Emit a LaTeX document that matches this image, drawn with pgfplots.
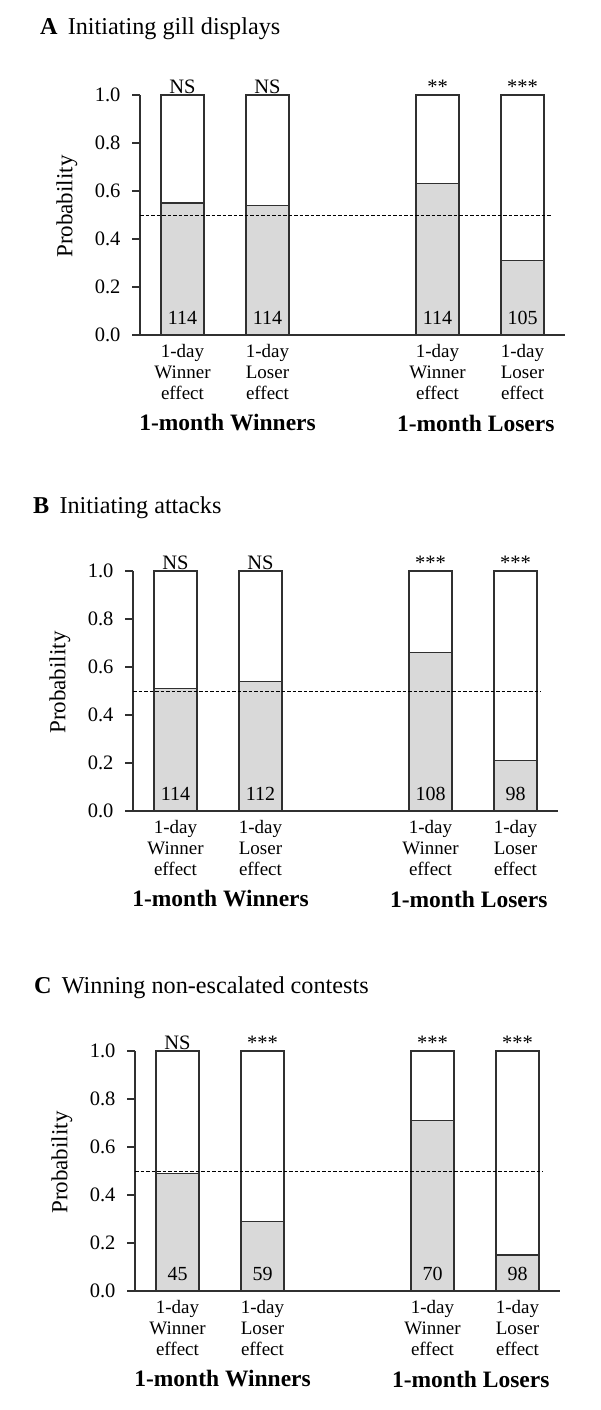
\documentclass[border=0pt]{standalone}
\usepackage{pgfplots}
\pgfplotsset{compat=1.18}
\usepackage{fontspec}
\setmainfont{Liberation Serif}
\definecolor{barfill}{HTML}{D9D9D9}
\definecolor{edge}{HTML}{303030}

\pgfplotsset{panel/.style={
  scale only axis, width=425pt, height=240pt,
  anchor=south west,
  xmin=-0.5, xmax=4.5, ymin=0, ymax=1,
  axis lines*=left,
  axis line style={edge, line width=1.1pt},
  ytick={0,0.2,0.4,0.6,0.8,1},
  /pgf/number format/.cd, fixed, fixed zerofill, precision=1, assume math mode=true, /pgfplots/.cd,
  yticklabel style={font=\fontsize{20.5}{24}\selectfont, xshift=-8pt},
  tick align=outside, major tick length=8pt,
  tick style={edge, line width=1.2pt},
  xtick={0,1,3,4},
  xticklabels={{1-day\\Winner\\effect},{1-day\\Loser\\effect},{1-day\\Winner\\effect},{1-day\\Loser\\effect}},
  xtick style={draw=none},
  xticklabel style={align=center, font=\fontsize{19}{21}\selectfont, yshift=2pt},
  ylabel={Probability},
  ylabel style={font=\fontsize{23}{24}\selectfont, at={(axis description cs:-0.172,0.535)}, anchor=center},
  clip=false,
}}
\pgfplotsset{whitebar/.style={ybar, bar width=43pt, bar shift=0pt, fill=white, draw=edge, line width=1.1pt},
  graybar/.style={ybar, bar width=43pt, bar shift=0pt, fill=barfill, draw=edge, line width=1.1pt},
  refline/.style={black, line width=0.9pt, dash pattern=on 3.5pt off 2pt, forget plot}}

\newcommand{\cnt}[2]{\node[font=\fontsize{20}{24}\selectfont] at (axis cs:#1,0) [yshift=17pt] {#2};}
\newcommand{\sig}[2]{\node[font=\fontsize{20.5}{24}\selectfont, anchor=base, inner sep=0pt] at (axis cs:#1,1) [yshift=1.5pt] {#2};}
\newcommand{\groups}{%
  \node[font=\fontsize{23.5}{26}\selectfont\bfseries] at (axis cs:0.53,0) [yshift=-88pt] {1-month Winners};
  \node[font=\fontsize{23.5}{26}\selectfont\bfseries] at (axis cs:3.45,0) [yshift=-88pt] {1-month Losers};}

\begin{document}
\begin{tikzpicture}
\useasboundingbox (0,-1410pt) rectangle (600pt,0);

% Panel titles
\node[anchor=base west, inner sep=0pt, font=\fontsize{24.2}{27}\selectfont] at (40pt,-35pt) {\textbf{A}\hspace{0.42em}Initiating gill displays};
\node[anchor=base west, inner sep=0pt, font=\fontsize{24.2}{27}\selectfont] at (33pt,-513pt) {\textbf{B}\hspace{0.42em}Initiating attacks};
\node[anchor=base west, inner sep=0pt, font=\fontsize{24.2}{27}\selectfont] at (34pt,-993pt) {\textbf{C}\hspace{0.42em}Winning non-escalated contests};

% Panel A
\begin{axis}[panel, at={(140pt,-335pt)}]
\addplot[whitebar] coordinates {(0,1) (1,1) (3,1) (4,1)};
\addplot[graybar] coordinates {(0,0.55) (1,0.54) (3,0.63) (4,0.31)};
\addplot[refline] coordinates {(-0.5,0.5) (4.33,0.5)};
\cnt{0}{114}\cnt{1}{114}\cnt{3}{114}\cnt{4}{105}
\sig{0}{NS}\sig{1}{NS}\sig{3}{**}\sig{4}{***}
\groups
\end{axis}

% Panel B
\begin{axis}[panel, at={(133pt,-811pt)}]
\addplot[whitebar] coordinates {(0,1) (1,1) (3,1) (4,1)};
\addplot[graybar] coordinates {(0,0.51) (1,0.54) (3,0.66) (4,0.21)};
\addplot[refline] coordinates {(-0.5,0.5) (4.3,0.5)};
\cnt{0}{114}\cnt{1}{112}\cnt{3}{108}\cnt{4}{98}
\sig{0}{NS}\sig{1}{NS}\sig{3}{***}\sig{4}{***}
\groups
\end{axis}

% Panel C
\begin{axis}[panel, at={(135pt,-1291pt)}]
\addplot[whitebar] coordinates {(0,1) (1,1) (3,1) (4,1)};
\addplot[graybar] coordinates {(0,0.49) (1,0.29) (3,0.71) (4,0.15)};
\addplot[refline] coordinates {(-0.5,0.5) (4.3,0.5)};
\cnt{0}{45}\cnt{1}{59}\cnt{3}{70}\cnt{4}{98}
\sig{0}{NS}\sig{1}{***}\sig{3}{***}\sig{4}{***}
\groups
\end{axis}
\end{tikzpicture}
\end{document}
